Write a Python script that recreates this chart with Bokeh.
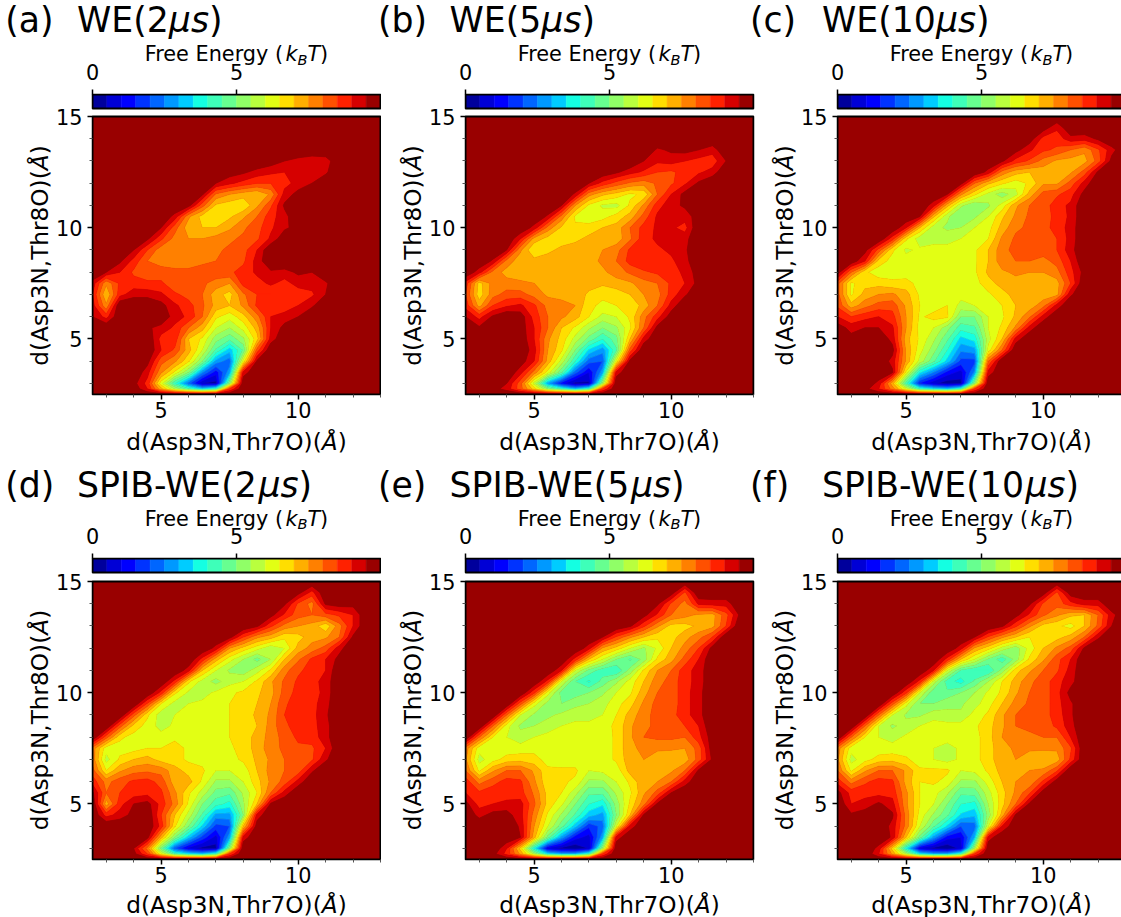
import numpy as np
from bokeh.plotting import figure
from bokeh.layouts import column, row
from bokeh.models import Label, Range1d, FixedTicker, LinearAxis
from bokeh.embed import file_html
from bokeh.resources import INLINE

X_GRID = [2.5 + 0.5 * i for i in range(22)]
Y_ROWS = [15, 14.5, 14, 13.5, 13, 12.5, 12, 11.5, 11, 10.5, 10, 9.5, 9, 8.5, 8, 7.5, 7, 6.5, 6, 5.5, 5, 4.5, 4, 3.5, 3, 2.75, 2.5]
LEVELS = [0.5 * i for i in range(20)] + [10.5]
COLORS = ["#00009c", "#0000d6", "#0000ff", "#0033ff", "#0066ff", "#0099ff", "#00ccff", "#14ffe2", "#3effb9", "#67ff90",
          "#90ff67", "#b9ff3e", "#e2ff14", "#ffde00", "#ffaf00", "#ff8000", "#ff5000", "#ff2100", "#d60000", "#990000"]
CB_EDGES = [0.5 * i for i in range(21)]
X_TICKS, X_MINOR = [5, 10], [3, 4, 6, 7, 8, 9, 11, 12, 13]
Y_TICKS, Y_MINOR = [5, 10, 15], [3, 4, 6, 7, 8, 9, 11, 12, 13, 14]
CB_TICKS = [0, 5]

# Free energy (tenths of kBT). Each row: first column index, then values; elsewhere the plateau, 100.
FE_A = [[], [], [], [],
 [13, 98,95,93,91,92],
 [10, 98,96,93,91,90,91,93,94],
 [9, 95,91,88,85,85,88,92,95,99],
 [8, 96,79,75,72,70,76,92,97],
 [7, 97,82,69,67,66,74,84,96],
 [6, 93,76,68,65,69,74,80,88,93],
 [5, 95,82,72,70,70,74,79,83,89,94,97],
 [4, 96,86,78,75,75,77,79,81,84,91,99],
 [3, 95,85,77,76,76,77,79,81,83,90],
 [2, 96,88,80,78,78,78,79,80,82,84,92],
 [1, 95,90,84,82,82,81,81,82,83,84,87,91,94,93,96,95],
 [0, 93,76,86,87,86,86,81,81,81,78,75,87,88,91,88,92,92,94],
 [0, 90,70,88,93,93,91,86,83,80,72,68,79,85,85,87,87,89,95],
 [0, 92,76,100,100,100,97,91,87,81,73,70,76,86,90,87,90,94],
 [0, 95,88,100,100,100,100,92,89,80,66,62,68,78,90,92,95],
 [4, 96,93,89,80,72,60,55,62,72,90,97],
 [5, 88,88,70,64,52,46,54,68,92],
 [5, 90,84,72,60,44,32,46,82],
 [4, 97,82,76,66,50,28,22,62,96],
 [4, 92,76,64,50,26,12,28,92],
 [3, 97,88,62,40,22,5,3,50,100],
 [3, 99,90,72,55,42,32,40,85],
 []]

FE_B = [[], [],
 [15, 97],
 [14, 94,96,97,95,92],
 [13, 95,91,92,90,88,87,95],
 [10, 99,96,92,89,85,84,87,89,92],
 [9, 95,88,83,79,77,81,84,89,96],
 [8, 94,77,71,68,64,66,80,90,97],
 [7, 95,75,64,59,58,66,76,88,93,96],
 [6, 94,78,64,60,63,67,72,82,91,92,92,98],
 [5, 93,78,69,66,68,70,72,80,87,91,91,88],
 [4, 90,73,68,68,69,71,72,72,79,88,91,90,93],
 [3, 95,76,65,69,71,72,72,75,78,86,88,89,91,94],
 [2, 94,78,72,72,72,71,72,73,76,80,87,90,90,89,93],
 [1, 92,78,73,72,72,72,72,72,72,74,77,81,84,86,88,91,98],
 [0, 88,68,77,77,76,75,73,72,72,72,71,73,74,78,80,86,90,97],
 [0, 85,67,78,82,82,78,74,73,73,69,66,67,70,75,78,87,94],
 [0, 88,73,85,89,91,86,78,77,75,66,64,65,66,72,80,92],
 [0, 95,88,96,100,98,88,80,76,72,65,58,60,66,78,88,98],
 [1, 96,100,100,98,90,80,70,64,56,50,54,64,80,97],
 [1, 97,100,100,99,90,76,68,58,48,40,48,70,92],
 [5, 92,75,66,50,34,27,44,82],
 [4, 98,90,73,58,40,22,20,62,97],
 [4, 92,78,63,46,22,10,28,92],
 [3, 95,82,58,28,12,3,4,52,100],
 [2, 97,93,82,68,50,40,30,40,85],
 []]

FE_C = [[],
 [15, 98,91],
 [14, 98,88,87,93,92,96],
 [13, 97,91,86,84,80,76,84,93],
 [12, 96,88,84,78,74,73,73,82,97],
 [11, 93,78,72,70,72,72,74,82,96],
 [9, 97,80,71,66,62,66,74,74,82,92],
 [8, 95,76,66,58,52,58,72,82,84,88,97],
 [7, 92,72,56,50,54,62,74,80,82,88,91],
 [6, 95,71,56,50,54,60,69,76,81,82,87,91],
 [5, 90,70,57,54,55,60,63,72,79,81,83,87,92],
 [4, 87,66,57,58,58,60,62,65,76,81,82,82,85,92],
 [2, 97,83,66,59,61,62,62,62,64,70,78,82,82,83,85,93],
 [1, 99,90,68,63,62,62,62,62,62,64,70,78,80,80,78,82,90],
 [0, 98,80,66,62,63,62,62,62,62,62,64,71,74,76,75,75,78,88,97],
 [0, 82,64,68,68,66,67,63,62,62,62,63,68,72,73,73,72,73,85],
 [0, 82,64,72,75,76,72,64,62,62,62,63,64,68,72,72,72,73,94],
 [0, 84,72,78,82,83,74,65,62,65,58,60,62,65,70,72,78,92],
 [0, 90,85,88,90,87,75,64,67,66,50,50,60,64,71,79,92],
 [0, 98,93,95,95,91,75,63,60,52,42,44,60,66,76,92],
 [1, 97,100,100,93,72,64,56,46,33,37,58,70,92],
 [4, 97,74,62,52,40,26,28,62,80],
 [4, 93,74,58,46,33,18,18,80],
 [4, 96,64,36,25,13,8,26,92],
 [3, 93,72,42,14,6,2,3,50,100],
 [2, 97,90,78,60,40,34,30,40,85],
 []]

FE_D = [[],
 [15, 97,88],
 [14, 96,84,78,96,98,97],
 [13, 97,89,82,80,83,86,90],
 [12, 96,86,78,75,73,66,78,90],
 [10, 97,85,76,72,66,68,73,74,80,96],
 [9, 93,75,68,62,56,60,72,77,82,93],
 [8, 88,72,62,55,48,55,70,79,86,90,97],
 [7, 92,70,60,54,52,58,66,78,84,87,90],
 [6, 88,66,58,53,58,60,66,74,81,86,88,92],
 [5, 88,66,59,58,61,64,66,69,73,82,87,87,92],
 [4, 84,65,58,60,61,62,65,66,70,75,84,88,88,93],
 [3, 82,66,57,60,61,62,62,65,67,71,76,85,88,88,94],
 [2, 82,68,63,58,61,62,62,62,65,66,70,77,84,87,88,93],
 [1, 82,66,63,62,62,64,62,62,62,65,67,72,77,82,86,87,93],
 [0, 78,62,63,63,65,65,67,64,62,62,64,67,72,78,81,84,84,90],
 [0, 78,58,66,70,72,68,67,64,63,62,63,66,71,76,80,82,84,94],
 [0, 82,65,74,78,79,78,72,68,66,60,60,62,70,77,80,82,94],
 [0, 88,78,83,86,87,83,72,72,64,54,54,60,68,76,82,92],
 [0, 96,80,85,87,88,86,76,66,58,48,46,56,65,80,92],
 [1, 72,88,95,97,88,78,64,50,42,38,54,70,96],
 [1, 88,92,97,100,85,70,58,44,28,28,50,92],
 [5, 88,66,50,34,18,20,70,98],
 [4, 97,72,50,32,18,8,28,92],
 [3, 95,78,48,20,8,3,3,50,100],
 [2, 96,97,85,62,42,34,30,40,85],
 []]

FE_E = [[],
 [15, 98,84],
 [14, 96,84,78,91,92,92],
 [13, 97,89,80,77,74,73,83,96],
 [12, 96,86,76,68,68,71,73,85],
 [10, 95,84,76,70,66,68,73,78,85],
 [9, 92,74,68,60,54,61,70,77,85,97],
 [8, 88,70,60,50,44,52,66,73,82,90],
 [7, 90,60,48,42,40,52,66,75,80,88,92],
 [6, 88,60,45,39,47,54,62,70,78,82,88,92],
 [5, 86,62,48,47,50,54,60,64,73,80,82,88,93],
 [4, 82,62,53,50,54,55,58,63,68,76,82,82,88,93],
 [3, 80,60,54,54,56,57,57,60,65,72,78,82,83,88,93],
 [2, 80,62,54,55,57,60,62,62,63,66,74,79,81,82,85,90],
 [1, 80,65,60,57,60,62,62,62,62,62,66,74,80,81,81,80,88,98],
 [0, 78,62,62,62,62,63,62,62,62,62,62,66,74,76,76,76,75,82,98],
 [0, 76,58,63,67,68,67,63,62,62,62,62,66,73,75,72,70,72,82,96],
 [0, 80,64,74,80,80,74,66,66,66,60,61,62,72,75,75,74,80,96],
 [0, 88,78,83,87,86,76,66,66,64,54,54,60,66,74,75,80,92],
 [0, 90,86,88,86,87,79,68,65,57,46,46,56,64,74,82,95],
 [0, 97,88,90,92,92,81,68,61,50,40,36,52,66,78,96],
 [1, 93,97,97,92,78,64,54,44,32,28,50,70,96],
 [4, 94,75,60,47,32,16,22,60,92],
 [4, 95,72,48,28,12,8,28,92],
 [3, 90,68,36,8,3,1,5,52,100],
 [2, 97,88,74,54,34,28,28,40,85],
 []]

FE_F = [[],
 [15, 98,84,98],
 [14, 96,84,82,88,92,92],
 [13, 97,89,81,76,71,70,80,93],
 [12, 96,86,76,68,66,63,70,81,95],
 [10, 95,84,76,70,65,66,68,72,80,94],
 [9, 92,74,67,58,52,62,70,76,82,96],
 [8, 88,70,60,49,42,52,66,74,83,90],
 [7, 90,60,44,40,40,52,68,74,80,84,92],
 [6, 88,58,42,38,46,55,65,72,79,82,88,93],
 [5, 86,60,46,46,50,55,61,66,74,80,82,88,97],
 [4, 82,62,50,50,54,54,58,63,70,77,81,82,88,94],
 [3, 80,60,54,54,58,56,56,62,66,74,80,82,83,87,94],
 [2, 80,60,54,57,60,62,62,62,64,68,74,80,82,82,86,93],
 [1, 80,65,60,58,61,62,62,62,62,63,68,75,78,78,80,80,90],
 [0, 78,62,62,62,62,62,62,60,58,61,63,68,73,76,76,76,76,84],
 [0, 76,58,63,67,68,66,62,60,58,61,63,68,73,75,72,70,72,86],
 [0, 80,64,74,80,80,74,66,66,66,60,61,66,72,75,75,76,84],
 [0, 88,78,84,87,86,73,65,66,63,54,54,62,70,75,76,86,98],
 [0, 97,88,88,88,88,76,65,62,56,46,47,58,68,76,84,98],
 [1, 90,92,96,92,76,65,60,50,40,38,55,68,80,96],
 [1, 96,98,100,96,78,63,54,46,34,31,52,72,96],
 [4, 93,78,60,46,34,20,22,60,90],
 [4, 94,70,48,28,12,10,30,92],
 [3, 93,68,36,8,3,1,6,54,100],
 [3, 90,74,55,34,28,28,40,85],
 []]

PANELS = [("(a)", "WE(2", FE_A), ("(b)", "WE(5", FE_B), ("(c)", "WE(10", FE_C),
          ("(d)", "SPIB-WE(2", FE_D), ("(e)", "SPIB-WE(5", FE_E), ("(f)", "SPIB-WE(10", FE_F)]

FONT = "DejaVu Sans"
EM = {"WE(2": 2.647, "WE(5": 2.647, "WE(10": 3.283, "SPIB-WE(2": 5.227, "SPIB-WE(5": 5.227, "SPIB-WE(10": 5.863}
PX_X, PX_Y, PX_CB = 27.43, 22.24, 28.8
BASE_SHIFT = 0.38  # labels land this many em below the requested alphabetic baseline


def grid(rows):
    z = np.full((len(Y_ROWS), len(X_GRID)), 100.0)
    for i, r in enumerate(rows):
        if r:
            z[i, r[0]:r[0] + len(r) - 1] = r[1:]
    return z[::-1] / 10.0


def style_axis(ax, ticks, minor, standoff):
    ax.ticker = FixedTicker(ticks=ticks, minor_ticks=minor)
    ax.major_label_text_font = FONT
    ax.major_label_text_font_size = "20.8px"
    ax.major_label_text_color = "black"
    ax.major_label_standoff = standoff
    ax.major_tick_in = 1
    ax.major_tick_out = 4
    ax.major_tick_line_width = 1.5
    ax.major_tick_line_color = "black"
    ax.minor_tick_in = 1
    ax.minor_tick_out = 2
    ax.minor_tick_line_width = 1
    ax.minor_tick_line_color = "#555555"
    ax.axis_line_color = None


def make_panel(idx):
    _, _, rows = PANELS[idx]
    col = idx % 3
    r2 = idx >= 3
    left = [91, 83, 81][col]
    frame_w = [290, 290, 285][col]
    right = [0, 1, 0][col]
    frame_h = 303 if r2 else 302
    fig_h = 453 if r2 else 464
    gap = 9 if r2 else 8  # px between colour bar and map
    x_start = 2.5 - 1 / PX_X
    y_start = 2.5 - 1 / PX_Y
    m = figure(width=left + frame_w + right, height=fig_h, min_border_left=left, min_border_right=right,
               min_border_top=93, min_border_bottom=fig_h - 93 - frame_h, toolbar_location=None,
               output_backend="svg", x_range=Range1d(x_start, x_start + frame_w / PX_X),
               y_range=Range1d(y_start, y_start + frame_h / PX_Y), background_fill_color="white",
               border_fill_color="white", outline_line_color=None)
    m.extra_x_ranges["cb"] = Range1d(-1 / PX_CB, (frame_w - 1) / PX_CB)
    m.grid.visible = False

    m.quad(left=2.5, right=13, bottom=2.5, top=15, fill_color="#990000", line_color=None)
    m.contour(X_GRID, Y_ROWS[::-1], grid(rows), levels=LEVELS, fill_color=COLORS,
              line_color=COLORS + COLORS[-1:], line_width=0.8)
    m.quad(left=2.5, right=13, bottom=2.5, top=15, fill_color=None, line_color="black", line_width=2)

    cb_bottom = 15 + gap / PX_Y
    cb_top = cb_bottom + 14 / PX_Y
    m.quad(left=CB_EDGES[:-1], right=CB_EDGES[1:], bottom=cb_bottom, top=cb_top, fill_color=COLORS,
           line_color=COLORS, line_width=0.5, x_range_name="cb")
    m.quad(left=0, right=10, bottom=cb_bottom, top=cb_top, fill_color=None, line_color="black", line_width=2,
           x_range_name="cb")

    style_axis(m.xaxis[0], X_TICKS, X_MINOR, 2)
    style_axis(m.yaxis[0], Y_TICKS, Y_MINOR, 5)
    top = LinearAxis(x_range_name="cb")
    m.add_layout(top, "above")
    style_axis(top, CB_TICKS, [], 10)
    return m


def text_layer():
    t = figure(width=1121, height=917, min_border=0, toolbar_location=None, output_backend="svg",
               x_range=Range1d(0, 1121), y_range=Range1d(0, 917), x_axis_type=None, y_axis_type=None,
               background_fill_color=None, border_fill_color=None, outline_line_color=None,
               margin=(-917, 0, 0, 0))
    t.grid.visible = False

    def put(x, y, text, size, italic=False, angle=0):
        if angle:
            x -= BASE_SHIFT * size
        else:
            y -= BASE_SHIFT * size
        t.add_layout(Label(x=x, y=917 - y, x_units="screen", y_units="screen", text=text, text_font=FONT,
                           text_font_size=f"{size}px", text_font_style="italic" if italic else "normal",
                           text_color="black", text_baseline="alphabetic", text_align="left", angle=angle))

    tag_x = [4.8, 377.5, 749.5]
    head_x = [76.5, 449, 821.5]
    center_x = [236, 609, 981]
    ylabel_x = [47.5, 420.5, 792.5]
    for i, (tag, head, _) in enumerate(PANELS):
        c = i % 3
        dy = 464.5 if i >= 3 else 0
        T = 34.7
        put(tag_x[c], 33 + dy, tag, T)
        put(head_x[c], 33 + dy, head, T)
        x1 = head_x[c] + EM[head] * T
        put(x1, 33 + dy, "\u03bcs", T, italic=True)
        put(x1 + 1.157 * T, 33 + dy, ")", T)

        s = 20.8
        fx = center_x[c] - 8.82 * s / 2
        put(fx, 61.5 + dy, "Free Energy (", s)
        fx += 6.76 * s
        put(fx, 61.5 + dy, "k", s, italic=True)
        fx += 0.579 * s
        put(fx, 64.5 + dy, "B", s * 0.7, italic=True)
        fx += 0.48 * s
        put(fx, 61.5 + dy, "T", s, italic=True)
        fx += 0.611 * s
        put(fx, 61.5 + dy, ")", s)

        a = 23.2
        ax0 = center_x[c] - 9.5 * a / 2
        ay = min(449.5 + dy, 913)
        put(ax0, ay, "d(Asp3N,Thr7O)(", a)
        put(ax0 + 8.426 * a, ay, "\u00c5", a, italic=True)
        put(ax0 + 9.11 * a, ay, ")", a)
        ay0 = 255 + dy + 9.5 * a / 2
        rot = np.pi / 2
        put(ylabel_x[c], ay0, "d(Asp3N,Thr8O)(", a, angle=rot)
        put(ylabel_x[c], ay0 - 8.426 * a, "\u00c5", a, italic=True, angle=rot)
        put(ylabel_x[c], ay0 - 9.11 * a, ")", a, angle=rot)
    return t


panels = column(row(make_panel(0), make_panel(1), make_panel(2), spacing=0),
                row(make_panel(3), make_panel(4), make_panel(5), spacing=0), spacing=0)
page = column(panels, text_layer(), spacing=0)
open("out.html", "w").write(file_html(page, INLINE))
